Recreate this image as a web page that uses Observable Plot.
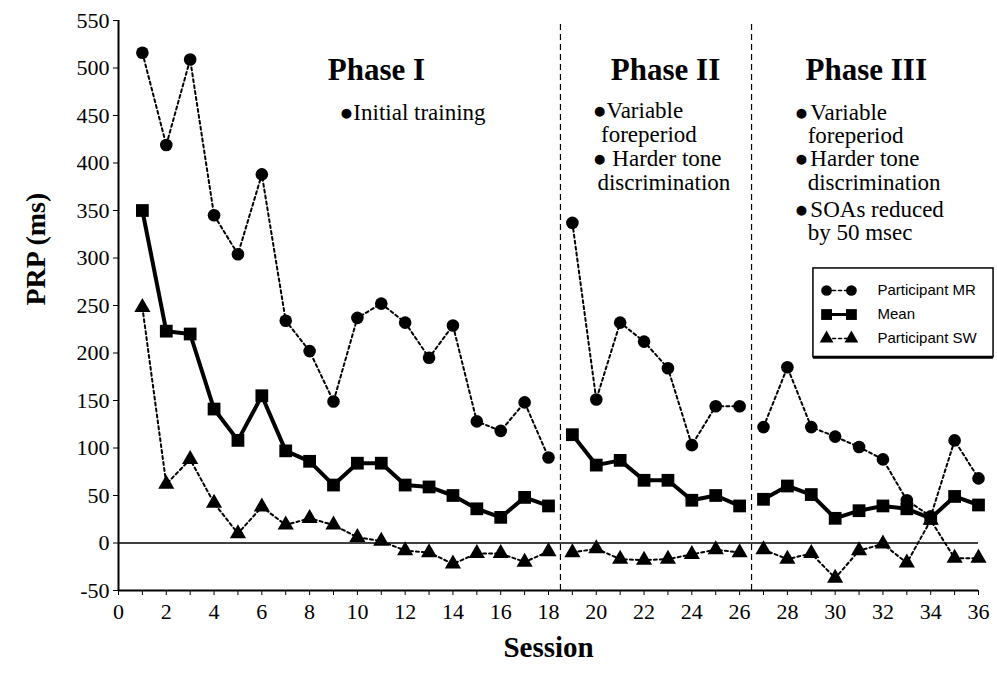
<!DOCTYPE html>
<html><head><meta charset="utf-8">
<script src="https://cdn.jsdelivr.net/npm/d3@7"></script>
<script src="https://cdn.jsdelivr.net/npm/@observablehq/plot@0.6"></script>
<style>
html,body{margin:0;padding:0;background:#fff;}
#chart svg{display:block;}
#chart g[aria-label="y-axis tick label"],
#chart g[aria-label="x-axis tick label"]{font-family:"Liberation Serif","Times New Roman",serif;font-size:22px;}
</style></head><body><div id="chart"></div>
<script>
// ---- data ----
const sessions = [1,2,3,4,5,6,7,8,9,10,11,12,13,14,15,16,17,18,19,20,21,22,23,24,25,26,27,28,29,30,31,32,33,34,35,36];
const participantMR = [516,419,509,345,304,388,234,202,149,237,252,232,195,229,128,118,148,90, 337,151,232,212,184,103,144,144, 122,185,122,112,101,88,45,28,108,68];
const meanPRP = [350,223,220,141,108,155,97,86,61,84,84,61,59,50,36,27,48,39, 114,82,87,66,66,45,50,39, 46,60,51,26,34,39,36,26,49,40];
const participantSW = [248,62,88,42,10,38,19,26,19,6,2,-8,-10,-22,-11,-11,-20,-9, -10,-6,-17,-18,-17,-12,-7,-10, -7,-17,-11,-37,-8,-1,-21,24,-16,-16];
const seriesNames = ["Participant MR","Mean","Participant SW"];
const phaseBounds = [18.5, 26.5];
const phaseTitles = ["Phase I","Phase II","Phase III"];
const phaseNotes = [
  ["\u25CFInitial training"],
  ["\u25CFVariable","foreperiod","\u25CF Harder tone","discrimination"],
  ["\u25CF\u200AVariable","foreperiod","\u25CF\u200AHarder tone","discrimination","\u25CF\u200ASOAs reduced","by 50 msec"]
];
const xTicks = [0,1,2,3,4,5,6,7,8,9,10,11,12,13,14,15,16,17,18,19,20,21,22,23,24,25,26,27,28,29,30,31,32,33,34,35,36];
const yTicks = [-50,0,50,100,150,200,250,300,350,400,450,500,550];
const xLabel = "Session";
const yLabel = "PRP (ms)";

// ---- build tables ----
const phaseOf = s => s < phaseBounds[0] ? 1 : s < phaseBounds[1] ? 2 : 3;
const seriesValues = [participantMR, meanPRP, participantSW];
const rows = seriesNames.flatMap((name, k) =>
  sessions.map((s, i) => ({session: s, value: seriesValues[k][i], series: name, phase: phaseOf(s)})));

const style = {
  "Participant MR": {symbol: "circle", r: 6.3, dash: "3,3", width: 2},
  "Participant SW": {symbol: "triangle", r: 6, dash: "3,3", width: 2},
  "Mean": {symbol: "square", r: 7.2, dash: null, width: 4}
};
const drawOrder = ["Participant MR", "Participant SW", "Mean"];

// annotation placement (data units)
const titleX = [10.8, 22.9, 31.3], titleY = 498;
const noteX = [[9.25], [19.85, 20.2, 19.85, 20.05], [28.3, 28.85, 28.3, 28.85, 28.3, 28.85]];
const noteY = [[453], [455, 430, 405, 379.5], [453, 429, 405, 379.5, 351, 327]];
const titleData = phaseTitles.map((t, i) => ({label: t, x: titleX[i], y: titleY}));
const noteData = phaseNotes.flatMap((lines, i) => lines.map((t, j) => ({label: t, x: noteX[i][j], y: noteY[i][j]})));

// legend (data units)
const legBox = {x1: 29.09, x2: 36.63, y1: 195.5, y2: 289};
const legRowY = [265.8, 240.5, 215.3];
const legX1 = 29.64, legX2 = 30.68, legTextX = 31.77;
const legendRows = seriesNames.map((n, i) => ({name: n, y: legRowY[i]}));

const serif = "Liberation Serif, Times New Roman, serif";
const sans = "Liberation Sans, Arial, Helvetica, sans-serif";

const marks = [];
// axes
marks.push(Plot.axisY({ticks: yTicks, tickSize: 5, tickPadding: 4, fontSize: 22, fontFamily: serif, tickFormat: d => d}));
marks.push(Plot.axisX({ticks: xTicks, tickSize: 5, tickPadding: 8, fontSize: 22, fontFamily: serif, tickFormat: d => d % 2 === 0 ? d : ""}));
marks.push(Plot.ruleX([0], {y1: -50, y2: 550, stroke: "black", strokeWidth: 2}));
marks.push(Plot.ruleY([-50], {x1: 0, x2: 36, stroke: "black", strokeWidth: 2}));
marks.push(Plot.ruleY([0], {x1: 0, x2: 36, stroke: "black", strokeWidth: 1.5}));
marks.push(Plot.ruleX(phaseBounds, {y1: -50, y2: 550, stroke: "black", strokeWidth: 1.2, strokeDasharray: "6,4"}));

// series
for (const name of drawOrder) {
  const st = style[name];
  const d = rows.filter(r => r.series === name);
  marks.push(Plot.line(d, {x: "session", y: "value", z: "phase", stroke: "black", strokeWidth: st.width, strokeDasharray: st.dash}));
  marks.push(Plot.dot(d, {x: "session", y: "value", symbol: st.symbol, r: st.r, fill: "black", stroke: "none"}));
}

// annotations
marks.push(Plot.text(titleData, {x: "x", y: "y", text: "label", fontSize: 31, fontWeight: "bold", fontFamily: serif, fill: "black"}));
marks.push(Plot.text(noteData, {x: "x", y: "y", text: "label", textAnchor: "start", fontSize: 23, fontFamily: serif, fill: "black"}));

// legend
marks.push(Plot.rect([legBox], {x1: "x1", x2: "x2", y1: "y1", y2: "y2", fill: "white", stroke: "black", strokeWidth: 1.5}));
marks.push(Plot.ruleY([legBox], {y: "y1", x1: "x1", x2: "x2", stroke: "black", strokeWidth: 3}));
for (const row of legendRows) {
  const st = style[row.name];
  const pts = [{x: legX1, y: row.y}, {x: legX2, y: row.y}];
  marks.push(Plot.line(pts, {x: "x", y: "y", stroke: "black", strokeWidth: st.width === 4 ? 3 : 1.6, strokeDasharray: st.dash}));
  marks.push(Plot.dot(pts, {x: "x", y: "y", symbol: st.symbol, r: st.r * 0.85, fill: "black", stroke: "none"}));
}
marks.push(Plot.text(legendRows, {x: () => legTextX, y: "y", text: "name", textAnchor: "start", fontSize: 15, fontFamily: sans, fill: "black"}));

// axis titles
marks.push(Plot.text([yLabel], {frameAnchor: "left", dx: -82, rotate: -90, text: d => d, fontSize: 28, fontWeight: "bold", fontFamily: serif, fill: "black"}));
marks.push(Plot.text([xLabel], {frameAnchor: "bottom", dy: 66, text: d => d, fontSize: 29, fontWeight: "bold", fontFamily: serif, fill: "black"}));

const chart = Plot.plot({
  width: 997,
  height: 683,
  marginLeft: 118,
  marginRight: 19,
  marginTop: 20,
  marginBottom: 93,
  x: {domain: [0, 36]},
  y: {domain: [-50, 550]},
  style: {fontFamily: serif, color: "black", background: "white", overflow: "visible"},
  marks
});
document.getElementById("chart").appendChild(chart);
</script>
</body></html>
